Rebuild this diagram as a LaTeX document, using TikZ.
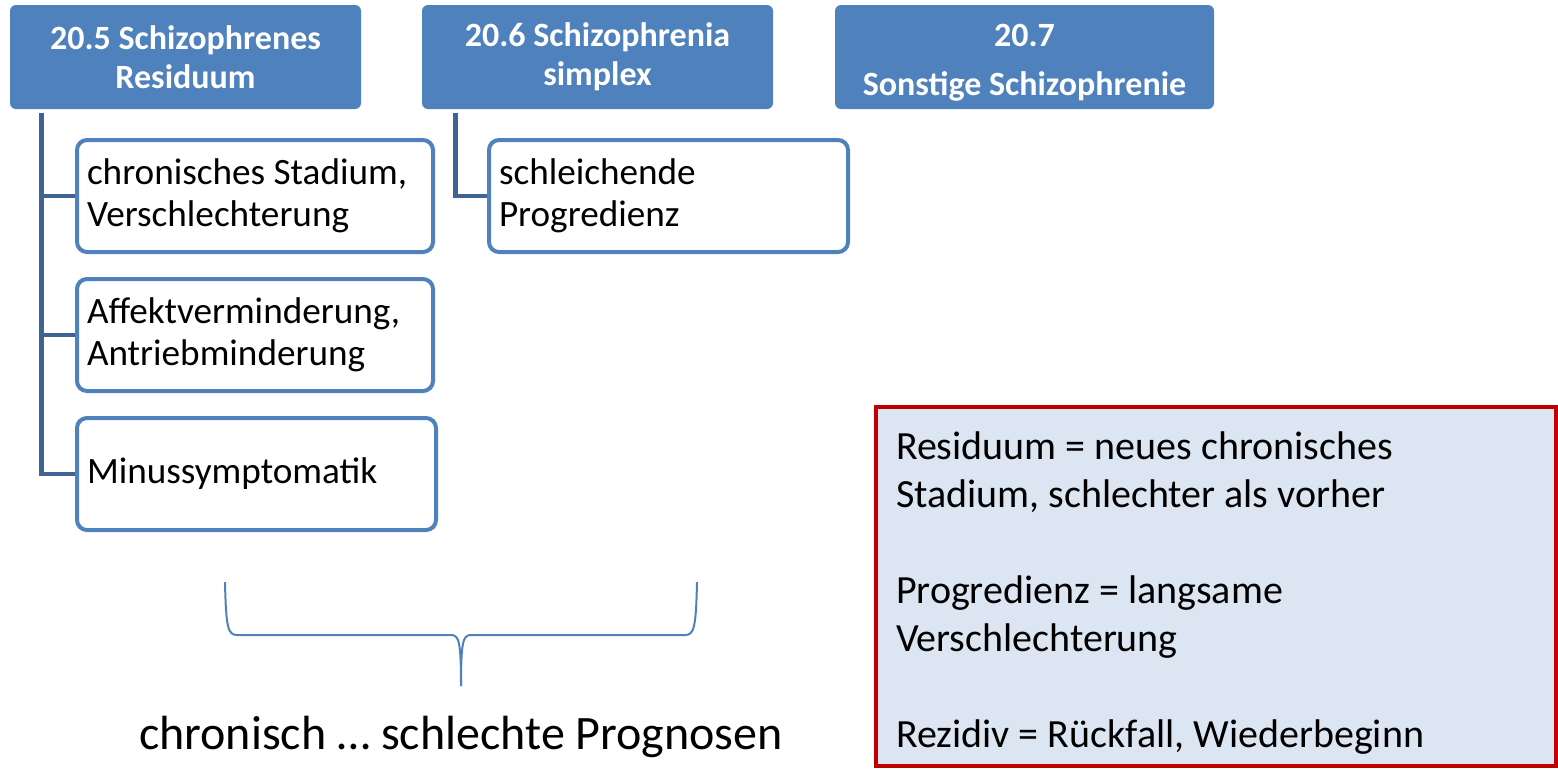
\documentclass[tikz,border=0pt]{standalone}
\usepackage{fontspec}
\setmainfont{Carlito}
\usepackage{tikz}
\usetikzlibrary{positioning}
\definecolor{headblue}{RGB}{79,129,189}
\definecolor{linkblue}{RGB}{62,100,150}
\definecolor{notered}{RGB}{192,0,0}
\definecolor{notefill}{RGB}{220,230,242}

\begin{document}
\begin{tikzpicture}[x=0.5pt,y=-0.5pt]
\tikzstyle{head}=[rectangle,rounded corners=3pt,fill=headblue,text=white,font=\fontsize{17}{19.5}\selectfont\bfseries,align=center,minimum width=175.5pt,minimum height=52pt,inner sep=0pt]
\tikzstyle{item}=[rectangle,rounded corners=5pt,draw=headblue,line width=2pt,fill=white,font=\fontsize{18.6}{21}\selectfont,text width=168pt,align=flush left,minimum height=56pt,inner xsep=5pt]
\tikzstyle{link}=[draw=linkblue,line width=2.2pt]
\tikzstyle{brc}=[draw=headblue,line width=1pt]
\tikzstyle{note}=[rectangle,draw=notered,line width=2pt,fill=notefill,minimum width=340pt,minimum height=179.5pt,text width=320pt,align=flush left,inner xsep=10pt,font=\fontsize{20}{24}\selectfont]
\useasboundingbox (0,0) rectangle (1558,768);
% headers
\node[head] (h5) at (185.5,57) {20.5 Schizophrenes\\Residuum};
\node[head] (h6) at (597.5,57) {20.6 Schizophrenia\\simplex};
\node[head,minimum width=189.5pt] (h7) at (1024.5,57) {\rule{0pt}{16.5pt}20.7\\[5pt]Sonstige Schizophrenie};
% children
\node[item] (r1) at (255,196) {chronisches Stadium,\\Verschlechterung};
\node[item] (r2) at (255,335) {Affektverminderung,\\Antriebminderung};
\node[item,text width=169.5pt] (r3) at (256.5,474) {Minussymptomatik};
\node[item,text width=169.5pt] (s1) at (668.5,196) {schleichende\\Progredienz};
% connectors
\coordinate (t5) at ([xshift=16pt,yshift=-2pt]h5.south west);
\coordinate (t6) at ([xshift=17pt,yshift=-2pt]h6.south west);
\draw[link] (t5) |- (r3.west);
\draw[link] (t5 |- r1.west) -- (r1.west);
\draw[link] (t5 |- r2.west) -- (r2.west);
\draw[link] (t6) |- (s1.west);
% brace
\coordinate (bl) at (225,582);
\coordinate (br) at (697,582);
\coordinate (bt) at (461,686);
\draw[brc] (bl) .. controls (226,628) and (228,635) .. (237,635) -- (452,635) .. controls (459,636) and (461,642) .. (bt);
\draw[brc] (br) .. controls (696,628) and (694,635) .. (685,635) -- (470,635) .. controls (463,636) and (461,642) .. (bt);
\node[anchor=base,font=\fontsize{24}{28}\selectfont] (prog) at (461,749) {chronisch … schlechte Prognosen};
% note
\node[note] (note) at (1216,586.5) {\rule{0pt}{20pt}Residuum = neues chronisches\\Stadium, schlechter als vorher\\[24pt]Progredienz = langsame\\Verschlechterung\\[24pt]Rezidiv = Rückfall, Wiederbeginn};
\end{tikzpicture}
\end{document}
